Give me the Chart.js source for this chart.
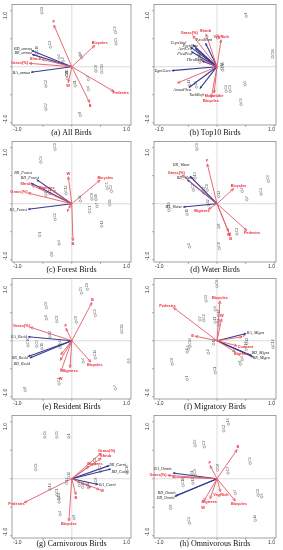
<!DOCTYPE html>
<html><head><meta charset="utf-8">
<script src="https://cdn.jsdelivr.net/npm/chart.js@4.4.1/dist/chart.umd.min.js"></script>
<style>
html,body{margin:0;padding:0;background:#fff;width:283px;height:550px;overflow:hidden}
canvas{position:absolute;display:block}
</style></head><body>
<script>
// ---------- DATA ----------
const captions = ["(a) All Birds","(b) Top10 Birds","(c) Forest Birds","(d) Water Birds",
  "(e) Resident Birds","(f) Migratory Birds","(g) Carnivorous Birds","(h) Omnivorous Birds"];
const tickLabels = ["-1.0","1.0"];

// [label, x, y] : environmental arrows (red)
const envA = [["F",-0.31,0.74],["Bicycles",0.40,0.38],["Pedestrs",0.73,-0.44],["B",0.31,-0.64],["W",-0.06,-0.28],["Grass(%)",-0.74,0.06],["Shrub",-0.52,0.13]];
const envB = [["Shrub",-0.19,0.58],["Grass(%)",-0.42,0.55],["VegRich",0.07,0.48],["Motorbike",-0.05,-0.47],["Bicycles",-0.10,-0.55],["",-0.69,-0.29],["",-0.28,0.13]];
const envC = [["W",-0.06,0.48],["Bicycles",0.49,0.42],["Shrub",-0.70,0.33],["Grass(%)",-0.76,0.19],["Bigtrees",-0.33,0.24],["B",0.02,-0.66],["F",-0.05,-0.08]];
const envD = [["F",-0.17,0.71],["Bicycles",0.29,0.27],["Pedestrs",0.52,-0.48],["B",0.23,-0.57],["W",0.20,-0.50],["Bigtrees",-0.15,-0.10],["Grass(%)",-0.61,0.51]];
const envE = [["B",0.35,0.68],["Grass(%)",-0.72,0.24],["F",-0.10,0.22],["Bicycles",0.33,-0.38],["Bigtrees",-0.03,-0.48],["W",-0.19,-0.55],["",-0.19,-0.25],["",-0.20,-0.35]];
const envF = [["Pedestrs",-0.76,0.59],["Bicycles",0.05,0.71],["W",0.08,0.39],["B",-0.38,0.08],["F",0.44,0.07],["Connect",0.35,-0.09],["Bigtrees",0.32,-0.20]];
const envG = [["Grass(%)",0.51,0.45],["Shrub",0.51,0.36],["Bigtrees",0.30,0.22],["Pedestrs",-0.83,-0.42],["Bicycles",-0.05,-0.74],["B",0.07,-0.28],["W",0.48,-0.19],["",0.33,-0.15]];
const envH = [["B",0.35,0.51],["F",-0.12,0.23],["Grass(%)",-0.86,0.06],["",-0.78,0.03],["VegRich",0.06,-0.23],["Bigtrees",-0.12,-0.35],["W",-0.23,-0.39],["Bicycles",0.32,-0.39]];

// [label, x, y] : species arrows (blue)
const spA = [["BD_annua",-0.70,0.29],["BR_annua",-0.69,0.22],["BA_annua",-0.71,-0.10]];
const spB = [["PassMont",-0.20,0.42],["CopsSaul",-0.42,0.39],["AcriCris",-0.46,0.35],["PycnSine",-0.38,0.33],["PicaPica",-0.45,0.27],["HiruRust",-0.26,0.10],["EgreGarz",-0.79,-0.07],["AmauPhoe",-0.49,-0.37],["TachRufi",-0.30,-0.39]];
const spC = [["BD_Forest",-0.61,0.43],["BR_Forest",-0.71,0.37],["BA_Forest",-0.76,-0.10]];
const spD = [["BD_Water",-0.47,0.49],["BR_Water",-0.52,0.43],["BA_Water",-0.59,-0.06]];
const spE = [["BA_Resid",-0.76,0.07],["BR_Resid",-0.76,-0.28],["BD_Resid",-0.73,-0.31]];
const spF = [["BA_Migra",0.51,0.13],["BR_Migra",0.63,-0.29],["BD_Migra",0.61,-0.27]];
const spG = [["BR_Carni",0.65,0.23],["BD_Carni",0.68,0.17],["BA_Carni",0.46,-0.10]];
const spH = [["BA_Omniv",-0.77,0.10],["BR_Omniv",-0.74,-0.31],["BD_Omniv",-0.72,-0.30]];

// [label, x, y] : sampling sites
const siteA = [["C9",-0.52,0.96],["C6",0.76,0.61],["C5",0.77,0.41],["C3",-0.37,0.35],["5",-0.22,0.16],["3",-0.15,0.10],["9",0.15,0.20],["6",0.17,0.16],["C8",0.42,-0.08],["C14",0.52,-0.10],["7",0.29,-0.23],["10",-0.09,-0.15],["C11",-0.08,-0.21],["11",0.06,-0.34],["C2",-0.45,-0.35],["4",0.29,-0.41],["C7",-0.45,-0.76],["8",0.15,-0.87],["C10",-0.61,0.23]];
const siteB = [["1",0.51,0.90],["C16",0.97,0.17],["2",0.01,0.51],["C15",0.10,-0.06],["13",0.08,-0.03],["5",0.49,-0.32],["C4",0.16,-0.44],["C3",0.23,-0.44],["C6",0.42,-0.67],["12",-0.31,0.16],["C10",-0.30,0.08],["11",-0.48,-0.33],["14",-0.36,-0.36]];
const siteC = [["C9",-0.29,0.97],["C6",-0.54,0.74],["C5",0.62,0.27],["C4",0.69,0.22],["15",0.66,-0.02],["16",0.15,0.05],["C8",0.35,0.08],["10",0.42,0.07],["7",0.44,-0.05],["C1",0.31,-0.15],["14",0.52,-0.40],["C2",-0.29,-0.28],["1",-0.56,-0.57],["4",-0.22,-0.72],["8",-0.35,-0.92],["12",-0.38,0.18],["C12",-0.10,0.18],["3",-0.45,0.15]];
const siteD = [["C9",-0.35,0.97],["C6",0.90,0.40],["C4",0.77,0.17],["3",0.44,0.22],["7",0.52,0.07],["14",-0.38,0.46],["C7",-0.41,0.24],["C1",-0.17,0.24],["C2",-0.23,0.19],["13",0.03,0.13],["12",-0.15,-0.02],["C10",-0.84,-0.12],["11",-0.52,-0.19],["8",0.03,-0.42],["C3",0.35,-0.54],["1",-0.48,-0.77],["C8",0.04,-0.80]];
const siteE = [["C9",0.27,0.92],["C5",0.17,0.85],["C6",-0.44,0.59],["C3",0.41,0.45],["1",-0.44,0.39],["C2",-0.26,0.34],["C8",0.08,0.33],["C16",0.87,0.15],["12",-0.38,0.07],["C10",-0.76,-0.09],["C7",-0.61,-0.10],["11",-0.52,-0.14],["2",-0.20,-0.06],["3",-0.20,-0.12],["C14",0.41,-0.31],["4",0.20,-0.38],["5",0.99,-0.38],["C1",-0.22,-0.77],["7",0.76,-0.86],["8",-0.81,-0.89]];
const siteF = [["C9",0.00,0.97],["C6",-0.19,0.71],["6",-0.03,0.55],["12",0.03,0.45],["11",-0.03,0.33],["C3",0.03,0.28],["7",-0.30,0.37],["C2",-0.23,0.36],["C16",0.98,-0.12],["12",0.52,-0.05],["C17",0.51,-0.16],["16",-0.06,-0.06],["C14",-0.47,-0.10],["5",-0.50,-0.15],["6",-0.52,-0.20],["2",-0.15,-0.22],["4",0.44,-0.34],["8",0.41,-0.42],["C8",-0.78,-0.42],["C1",-0.03,-0.57],["1",-0.52,-0.69]];
const siteG = [["C6",-0.47,0.73],["C5",-0.26,0.73],["1",-0.05,0.73],["C9",-0.63,0.16],["C16",0.96,0.10],["C2",0.40,0.26],["C7",0.50,0.13],["13",-0.05,0.02],["12",-0.09,-0.08],["16",-0.38,-0.18],["C8",0.42,-0.09],["9",0.13,-0.12],["15",0.19,-0.15],["12",0.29,-0.16],["C1",-0.26,-0.28],["C4",-0.22,-0.35],["C3",-0.22,-0.41],["4",-0.20,-0.63],["8",0.04,-0.70]];
const siteH = [["16",0.20,0.96],["C3",0.12,0.84],["C6",-0.38,0.58],["C2",-0.22,0.56],["C5",0.58,0.27],["C8",0.01,0.15],["C7",0.19,0.10],["C9",-0.38,0.06],["1",-0.44,0.08],["12",-0.42,-0.08],["C10",-0.59,-0.12],["7",0.32,-0.26],["5",0.78,-0.32],["C1",0.72,-0.29],["8",-0.81,-0.52],["C4",-0.48,-0.78],["14",0.67,-0.73]];

const envAll = [envA,envB,envC,envD,envE,envF,envG,envH];
const spAll = [spA,spB,spC,spD,spE,spF,spG,spH];
const siteAll = [siteA,siteB,siteC,siteD,siteE,siteF,siteG,siteH];

// ---------- STYLE ----------
const RED_LINE = '#e25a66', RED_TEXT = '#ee2834', BLUE = '#363a90';
const ENV_FONT = 3.9, SP_FONT = 4.1, SITE_FONT = 3.4;

const biplot = {
  id: 'biplot',
  beforeDatasetsDraw(chart) {
    const {ctx, chartArea: a, scales: {x, y}} = chart;
    const x0 = x.getPixelForValue(0), y0 = y.getPixelForValue(0);
    ctx.save();
    ctx.strokeStyle = '#d4d4d4'; ctx.lineWidth = 0.8;
    ctx.beginPath();
    ctx.moveTo(a.left, y0); ctx.lineTo(a.right, y0);
    ctx.moveTo(x0, a.top); ctx.lineTo(x0, a.bottom);
    ctx.stroke();
    ctx.restore();
  },
  afterDatasetsDraw(chart) {
    const {ctx, chartArea: a, scales: {x, y}} = chart;
    const x0 = x.getPixelForValue(0), y0 = y.getPixelForValue(0);
    ctx.save();
    // site labels
    chart.data.datasets.forEach((ds, i) => {
      if (ds.kind !== 'site') return;
      const meta = chart.getDatasetMeta(i);
      ctx.fillStyle = '#555';
      ctx.font = SITE_FONT + 'px "Liberation Sans"';
      ctx.textAlign = 'left'; ctx.textBaseline = 'middle';
      meta.data.forEach((pt, j) => {
        ctx.save();
        ctx.translate(pt.x, pt.y - 1.8);
        ctx.rotate(-Math.PI / 2);
        ctx.fillText(ds.data[j].l, 0, 0);
        ctx.restore();
      });
    });
    // arrowheads + labels
    const placed = [];
    chart.data.datasets.forEach((ds, i) => {
      if (ds.kind !== 'env' && ds.kind !== 'sp') return;
      const meta = chart.getDatasetMeta(i);
      const tip = meta.data[1];
      const tx = tip.x, ty = tip.y;
      const len = Math.hypot(tx - x0, ty - y0) || 1;
      const dx = (tx - x0) / len, dy = (ty - y0) / len;
      const ang = Math.atan2(dy, dx);
      if (ds.kind === 'env') {
        ctx.strokeStyle = RED_LINE; ctx.lineWidth = 0.8;
        const L = 3.2, w = 0.42;
        ctx.beginPath();
        ctx.moveTo(tx - L * Math.cos(ang - w), ty - L * Math.sin(ang - w));
        ctx.lineTo(tx, ty);
        ctx.lineTo(tx - L * Math.cos(ang + w), ty - L * Math.sin(ang + w));
        ctx.stroke();
      } else {
        ctx.fillStyle = BLUE;
        const L = 2.6, w = 0.5;
        ctx.beginPath();
        ctx.moveTo(tx, ty);
        ctx.lineTo(tx - L * Math.cos(ang - w), ty - L * Math.sin(ang - w));
        ctx.lineTo(tx - L * Math.cos(ang + w), ty - L * Math.sin(ang + w));
        ctx.closePath(); ctx.fill();
      }
      if (!ds.label) return;
      const fs = ds.kind === 'env' ? ENV_FONT : SP_FONT;
      ctx.font = ds.kind === 'env' ? 'bold ' + fs + 'px "Liberation Sans"' : 'italic ' + fs + 'px "Liberation Serif"';
      ctx.fillStyle = ds.kind === 'env' ? RED_TEXT : '#222';
      const tw = ctx.measureText(ds.label).width, th = fs;
      const bx = tx + dx * Math.abs(dx) * (tw / 2 + 1.2);
      const by = ty + dy * (th / 2 + 1.3);
      const sy = dy >= 0 ? 1 : -1, sx = dx >= 0 ? 1 : -1;
      const cands = [[0,0],[0,sy*th],[sx*tw*0.6,0],[0,-sy*th],[sx*tw*0.6,sy*th],[0,sy*2*th],[sx*tw*0.6,-sy*th],[-sx*tw*0.6,sy*th],[0,sy*3*th]];
      let box = null;
      for (const [ox, oy] of cands) {
        const cx = bx + ox, cy = by + oy;
        const b = {l: cx - tw / 2, r: cx + tw / 2, t: cy - th / 2, b: cy + th / 2, cx, cy};
        const hit = placed.some(p => !(b.r < p.l || b.l > p.r || b.b < p.t || b.t > p.b));
        if (!hit) { box = b; break; }
      }
      if (!box) box = {l: bx - tw / 2, r: bx + tw / 2, t: by - th / 2, b: by + th / 2, cx: bx, cy: by};
      placed.push(box);
      ctx.textAlign = 'center'; ctx.textBaseline = 'middle';
      ctx.fillText(ds.label, box.cx, box.cy);
    });
    // frame
    ctx.strokeStyle = '#8a8a8a'; ctx.lineWidth = 0.8;
    ctx.strokeRect(a.left, a.top, a.right - a.left, a.bottom - a.top);
    // ticks
    ctx.beginPath();
    [-1, -0.5, 0, 0.5, 1].forEach(v => {
      const px = x.getPixelForValue(v);
      if (px >= a.left && px <= a.right) { ctx.moveTo(px, a.bottom); ctx.lineTo(px, a.bottom + 1.8); }
      const py = y.getPixelForValue(v);
      if (py >= a.top && py <= a.bottom) { ctx.moveTo(a.left, py); ctx.lineTo(a.left - 1.8, py); }
    });
    ctx.stroke();
    // tick labels
    ctx.fillStyle = '#333';
    ctx.font = '5px "Liberation Sans"';
    ctx.textBaseline = 'middle';
    ctx.textAlign = 'left';
    ctx.fillText(tickLabels[0], a.left + 1, a.bottom + 4.5);
    ctx.textAlign = 'right';
    ctx.fillText(tickLabels[1], a.right - 1, a.bottom + 4.5);
    ctx.save();
    ctx.translate(a.left - 6.5, a.top + 11);
    ctx.rotate(-Math.PI / 2);
    ctx.textAlign = 'center';
    ctx.fillText(tickLabels[1], 0, 0);
    ctx.restore();
    ctx.save();
    ctx.translate(a.left - 6.5, a.bottom - 6);
    ctx.rotate(-Math.PI / 2);
    ctx.textAlign = 'center';
    ctx.fillText(tickLabels[0], 0, 0);
    ctx.restore();
    // caption
    ctx.fillStyle = '#111';
    ctx.font = '8px "Liberation Serif"';
    ctx.textAlign = 'center'; ctx.textBaseline = 'middle';
    ctx.fillText(chart.options.caption, (a.left + a.right) / 2, 133);
    ctx.restore();
  }
};

const rowTops = [0, 137, 274, 411];
for (let i = 0; i < 8; i++) {
  const col = i % 2, row = Math.floor(i / 2);
  const cv = document.createElement('canvas');
  const W = col === 0 ? 141 : 142, H = row === 3 ? 139 : 137;
  cv.width = W; cv.height = H;
  cv.style.left = (col * 141) + 'px'; cv.style.top = rowTops[row] + 'px';
  cv.style.width = W + 'px'; cv.style.height = H + 'px';
  document.body.appendChild(cv);

  const datasets = [];
  envAll[i].forEach(([lab, vx, vy]) => datasets.push({
    label: lab, kind: 'env', data: [{x: 0, y: 0}, {x: vx, y: vy}], showLine: true,
    borderColor: RED_LINE, borderWidth: 0.9, pointRadius: 0, fill: false
  }));
  spAll[i].forEach(([lab, vx, vy]) => datasets.push({
    label: lab, kind: 'sp', data: [{x: 0, y: 0}, {x: vx, y: vy}], showLine: true,
    borderColor: BLUE, borderWidth: 1.1, pointRadius: 0, fill: false
  }));
  datasets.push({
    label: 'sites', kind: 'site', data: siteAll[i].map(([l, vx, vy]) => ({x: vx, y: vy, l})),
    showLine: false, pointRadius: 1.2, pointBackgroundColor: '#fff', pointBorderColor: '#666', pointBorderWidth: 0.5
  });

  new Chart(cv, {
    type: 'scatter',
    data: {datasets},
    options: {
      caption: captions[i],
      responsive: false, animation: false, devicePixelRatio: 1, events: [],
      layout: {padding: col === 0 ? {left: 12, right: 10, top: 2, bottom: 12} : {left: 13, right: 7, top: 2, bottom: 12}},
      scales: {
        x: {type: 'linear', min: col === 0 ? -1.04 : -1.10, max: 1.03, display: false},
        y: {type: 'linear', min: -1.04, max: 1.11, display: false}
      },
      plugins: {legend: {display: false}, tooltip: {enabled: false}, title: {display: false}}
    },
    plugins: [biplot]
  });
}
</script>
</body></html>
